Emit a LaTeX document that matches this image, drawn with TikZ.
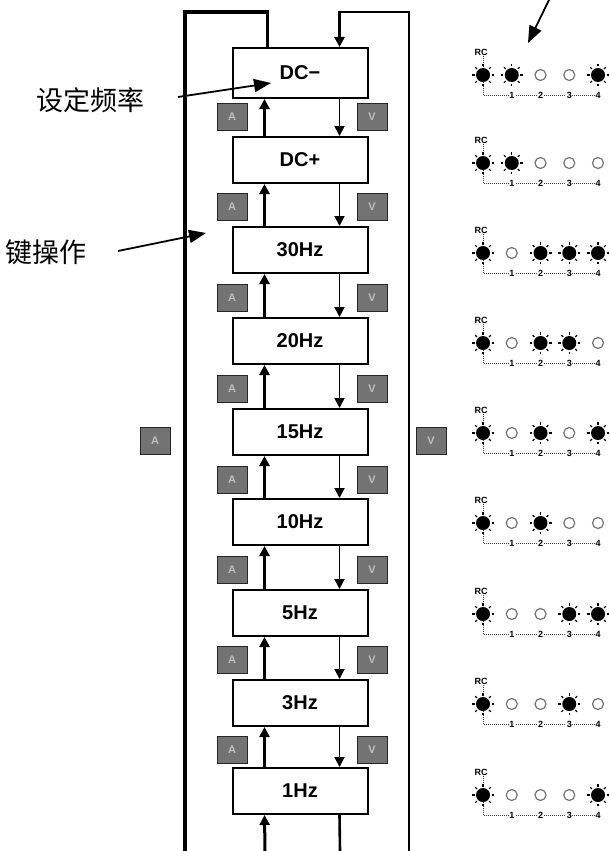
\documentclass[tikz,border=0pt]{standalone}
\usepackage{fontspec}
\setmainfont{Liberation Sans}
\newfontfamily\cjk{Noto Sans CJK SC}
\usetikzlibrary{arrows.meta,calc}
\begin{document}
\begin{tikzpicture}[x=1pt,y=-1pt,
  freqbox/.style={draw,line width=2pt,fill=white,minimum width=135pt,minimum height=46pt,inner sep=0pt,font=\bfseries\fontsize{20}{20}\selectfont},
  keysq/.style={draw=black!85,line width=1pt,fill=black!55,minimum width=30pt,minimum height=27pt,inner sep=0pt,text=black!25,font=\bfseries\fontsize{11}{11}\selectfont},
  uparrow/.style={line width=3pt,-{Triangle[length=10pt,width=10pt]}},
  downarrow/.style={line width=1.8pt,-{Triangle[length=10pt,width=10pt]}},
  loopline/.style={line width=3.2pt},
  lblarrow/.style={line width=1.8pt,-{Triangle[length=17pt,width=13pt]}},
  cnlabel/.style={font=\cjk\fontsize{27}{27}\selectfont,inner sep=0pt},
  axisline/.style={line width=1pt,black!75,densely dotted},
  ledlabel/.style={font=\bfseries\fontsize{9}{9}\selectfont,inner sep=0.6pt,fill=white},
  ledoff/.style={draw=black!55,line width=1.2pt,fill=white}
]
\useasboundingbox (0,0) rectangle (610,851);

% key squares between boxes
\foreach \yy [count=\k] in {117,207,298,389,480,570,660,750}{
  \node[keysq] (kl\k) at (232,\yy) {A};
  \node[keysq] (kr\k) at (372,\yy) {V};
}
\node[keysq] (outerA) at (155,441) {A};
\node[keysq] (outerV) at (431,441) {V};

% frequency boxes
\node[freqbox,minimum height=50pt] (b1) at (300,73) {DC−};
\node[freqbox] (b2) at (300,160) {DC+};
\node[freqbox] (b3) at (300,250) {30Hz};
\node[freqbox] (b4) at (300,341) {20Hz};
\node[freqbox] (b5) at (300,432) {15Hz};
\node[freqbox] (b6) at (300,522) {10Hz};
\node[freqbox] (b7) at (300,613) {5Hz};
\node[freqbox] (b8) at (300,703) {3Hz};
\node[freqbox] (b9) at (300,791) {1Hz};

% arrows between boxes
\foreach \a/\b in {1/2,2/3,3/4,4/5,5/6,6/7,7/8,8/9}{
  \draw[uparrow] ([xshift=33pt]b\b.north west) -- ([xshift=33pt]b\a.south west);
  \draw[downarrow] ([xshift=108pt]b\a.south west) -- ([xshift=108pt]b\b.north west);
}

% outer loops
\coordinate (tl) at (185,12);
\coordinate (bl) at (185,851);
\coordinate (tr) at (409,12);
\coordinate (br) at (409,851);
\coordinate (bu) at (265,851);
\coordinate (bd) at (340,851);
\draw[loopline] ([xshift=36pt]b1.north west) |- (tl) -- (bl);
\draw[loopline,line width=2.6pt,-{Triangle[length=10pt,width=10pt]}] (br) -- (tr) -| ([xshift=108pt]b1.north west);
\draw[uparrow] (bu) -- ([xshift=33pt]b9.south west);
\draw[loopline,line width=2.6pt] ([xshift=108pt]b9.south west) -- (bd);

% labels
\node[cnlabel] (setf) at (90,100) {设定频率};
\node[cnlabel] (keyop) at (46,252) {键操作};
\coordinate (sa) at (178,97);
\coordinate (sb) at (271,83);
\coordinate (ka) at (118,251);
\coordinate (kb) at (206,233);
\coordinate (ta) at (549,0);
\coordinate (tb) at (528,43);
\draw[lblarrow] (sa) -- (sb);
\draw[lblarrow] (ka) -- (kb);
\draw[lblarrow] (ta) -- (tb);

% LED rows
\foreach \yy/\pa/\pb/\pc/\pd [count=\r] in {
  75/1/0/0/1, 163/1/0/0/0, 253/0/1/1/1, 343/0/1/1/0, 433/0/1/0/1,
  523/0/1/0/0, 614/0/0/1/1, 704/0/0/1/0, 795/0/0/0/1}{
  \node[ledlabel] (rc\r) at (481,\yy-23) {RC};
  \coordinate (ax\r) at (483,\yy+20);
  \coordinate (ae\r) at (600,\yy+20);
  \draw[axisline] (rc\r.south -| ax\r) -- (ax\r) -- (ae\r);
  % RC led always on
  \fill (483,\yy) circle (7pt);
  \foreach \ang in {0,45,...,315}{\draw[line width=1.2pt] ($(483,\yy)+(\ang:8.5pt)$) -- ($(483,\yy)+(\ang:11pt)$);}
  \foreach \st [count=\j] in {\pa,\pb,\pc,\pd}{
    \pgfmathsetmacro{\xx}{483+28.75*\j}
    \ifnum\st=1
      \fill (\xx,\yy) circle (7pt);
      \foreach \ang in {0,45,...,315}{\draw[line width=1.2pt] ($(\xx,\yy)+(\ang:8.5pt)$) -- ($(\xx,\yy)+(\ang:11pt)$);}
    \else
      \draw[ledoff] (\xx,\yy) circle (5.5pt);
    \fi
    \node[ledlabel] (n\r-\j) at (\xx,\yy+20) {\j};
  }
}
\end{tikzpicture}
\end{document}
